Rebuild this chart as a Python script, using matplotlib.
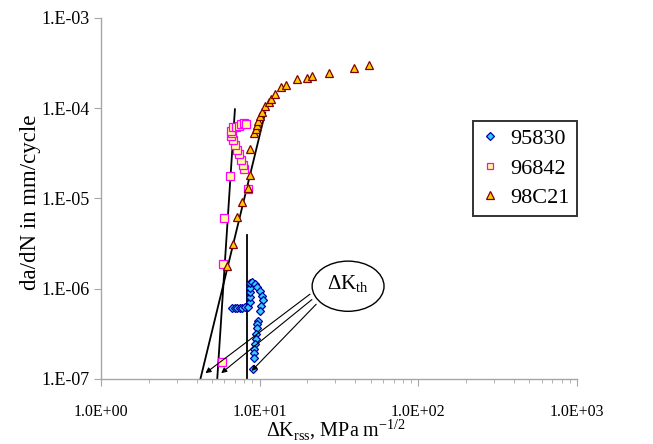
import numpy as np
import matplotlib
matplotlib.use("Agg")
import matplotlib.pyplot as plt
from matplotlib.patches import Ellipse
from matplotlib.ticker import FixedLocator, FuncFormatter, LogLocator, NullFormatter

plt.rcParams['font.family'] = ['Liberation Serif', 'DejaVu Serif']
plt.rcParams['mathtext.fontset'] = 'custom'
plt.rcParams['mathtext.rm'] = 'Liberation Serif'

# ---- data ----
dk_95830 = [6.70, 6.95, 7.20, 7.47, 7.75, 8.04, 8.40, 8.68, 8.68, 8.68, 8.64, 8.64,
            8.97, 9.29, 9.64, 10.0, 10.35, 10.5, 10.25, 10.07, 9.75, 9.67, 9.64,
            9.53, 9.43, 9.34, 9.23, 9.20, 9.20, 9.07]
dadn_95830 = [6.15e-7, 6.15e-7, 6.15e-7, 6.15e-7, 6.15e-7, 6.23e-7, 6.31e-7, 7.05e-7,
              8.0e-7, 9.1e-7, 1.03e-6, 1.17e-6, 1.20e-6, 1.12e-6, 1.04e-6, 9.38e-7,
              8.36e-7, 7.45e-7, 6.47e-7, 5.70e-7, 4.41e-7, 4.08e-7, 3.69e-7,
              3.16e-7, 2.78e-7, 2.45e-7, 2.16e-7, 1.95e-7, 1.71e-7, 1.28e-7]

dk_96842 = [5.81, 5.89, 5.96, 6.46, 8.40, 7.96, 7.80, 7.66, 7.39, 7.15, 6.98, 6.82,
            6.62, 6.67, 6.55, 6.75, 7.05, 7.36, 7.64, 7.92, 8.15]
dadn_96842 = [1.55e-7, 1.90e-6, 6.15e-6, 1.76e-5, 1.28e-5, 2.10e-5, 2.33e-5, 2.69e-5,
              3.08e-5, 3.48e-5, 3.88e-5, 4.41e-5, 4.89e-5, 5.32e-5, 5.60e-5, 6.19e-5,
              6.19e-5, 6.31e-5, 6.64e-5, 6.81e-5, 6.75e-5]

dk_98c21 = [6.21, 6.80, 7.22, 7.73, 8.40, 8.75, 8.71, 9.22, 9.43, 9.61, 9.79, 10.07,
            10.3, 10.8, 11.4, 11.7, 12.4, 13.7, 14.6, 17.2, 19.8, 21.3, 27.2, 39.2, 48.7]
dadn_98c21 = [1.80e-6, 3.14e-6, 6.3e-6, 9.1e-6, 1.31e-5, 1.84e-5, 3.57e-5, 5.34e-5,
              5.92e-5, 6.56e-5, 7.26e-5, 8.15e-5, 9.03e-5, 1.05e-4, 1.17e-4, 1.28e-4,
              1.43e-4, 1.73e-4, 1.80e-4, 2.09e-4, 2.16e-4, 2.27e-4, 2.47e-4, 2.78e-4,
              2.98e-4]

# threshold fit lines (x pairs, y pairs)
fit_96842_x = [5.40, 6.98]
fit_96842_y = [1e-7, 9.75e-5]
fit_98c21_x = [4.23, 10.83]
fit_98c21_y = [1e-7, 8.96e-5]
fit_95830_x = [8.37, 8.37]
fit_95830_y = [1e-7, 3.95e-6]

# arrow tips for the dK_th callout
tip_x = [4.55, 5.72, 8.89]
tip_y = [1.16e-7, 1.16e-7, 1.23e-7]

xticks = [1, 10, 100, 1000]
yticks = [1e-7, 1e-6, 1e-5, 1e-4, 1e-3]

# -----------------------------
# figure
# -----------------------------
fig = plt.figure(figsize=(6.53, 4.44), dpi=100)
ax = fig.add_axes([0.1547, 0.1464, 0.729, 0.8131])
ax.set_xscale('log')
ax.set_yscale('log')
ax.set_xlim(1, 1000)
ax.set_ylim(1e-7, 1e-3)

ax.plot(fit_96842_x, fit_96842_y, color='black', lw=1.3, zorder=2)
ax.plot(fit_98c21_x, fit_98c21_y, color='black', lw=1.3, zorder=2)
ax.plot(fit_95830_x, fit_95830_y, color='black', lw=1.3, zorder=2)

ax.plot(dk_95830, dadn_95830, ls='none', marker='D', ms=4.4, mfc='#33CCFF',
        mec='#0000A0', mew=0.9, label='95830', zorder=3, clip_on=False)
ax.plot(dk_96842, dadn_96842, ls='none', marker='s', ms=5.6, mfc='#FFFF99',
        mec='#FF00FF', mew=0.9, label='96842', zorder=3, clip_on=False)
ax.plot(dk_98c21, dadn_98c21, ls='none', marker='^', ms=6.0, mfc='#FFCC00',
        mec='#800000', mew=0.9, label='98C21', zorder=3, clip_on=False)

# spines / ticks
for s in ['top', 'right']:
    ax.spines[s].set_visible(False)
for s in ['left', 'bottom']:
    ax.spines[s].set_color('#A6A6A6')
    ax.spines[s].set_linewidth(1.0)

ax.xaxis.set_major_locator(FixedLocator(xticks))
ax.xaxis.set_minor_locator(LogLocator(base=10, subs=np.arange(2, 10)))
ax.xaxis.set_minor_formatter(NullFormatter())
ax.xaxis.set_major_formatter(FuncFormatter(lambda v, p: '%.1fE%+03d' % (1.0, int(round(np.log10(v))))))
ax.yaxis.set_major_locator(FixedLocator(yticks))
ax.yaxis.set_minor_locator(FixedLocator([]))
ax.yaxis.set_major_formatter(FuncFormatter(lambda v, p: '1.E%+03d' % int(round(np.log10(v)))))
ax.tick_params(axis='both', which='both', direction='out', color='#A6A6A6')
ax.tick_params(axis='both', which='major', length=5)
ax.tick_params(axis='x', which='minor', length=3)
ax.tick_params(axis='x', which='major', labelsize=11.5, pad=13)
ax.tick_params(axis='y', which='major', labelsize=13, pad=3)

fig.text(0.515, 0.018, r'$\Delta$K$_{\rm rss}$, MPa m$^{\rm {-}1/2}$', fontsize=14.5,
         ha='center', va='baseline')
ax.set_ylabel('da/dN in mm/cycle', fontsize=16.5)
ax.yaxis.set_label_coords(-0.126, 0.49)

# legend
leg = ax.legend(loc='upper left', bbox_to_anchor=(0.759, 0.746), fontsize=16,
                frameon=True, fancybox=False, markerscale=0.85, handlelength=0.8,
                handletextpad=0.5, borderpad=0.35, labelspacing=0.4)
leg.get_frame().set_edgecolor('black')
leg.get_frame().set_linewidth(1.4)

# dK_th callout
ell = Ellipse((0.519, 0.257), 0.151, 0.139, transform=ax.transAxes,
              facecolor='white', edgecolor='black', lw=1.0, zorder=4)
ax.add_patch(ell)
ax.text(0.519, 0.262, r'$\Delta$K$_{\rm th}$', transform=ax.transAxes,
        ha='center', va='center', fontsize=15, zorder=5)

starts = [(0.439, 0.235), (0.443, 0.220), (0.452, 0.207)]
for (sx, sy), tx, ty in zip(starts, tip_x, tip_y):
    ax.annotate('', xy=(tx, ty), xycoords='data', xytext=(sx, sy),
                textcoords='axes fraction',
                arrowprops=dict(arrowstyle='-|>', color='black', lw=0.8,
                                mutation_scale=8, shrinkA=0, shrinkB=0),
                zorder=3)

plt.savefig('out.png', dpi=100)
